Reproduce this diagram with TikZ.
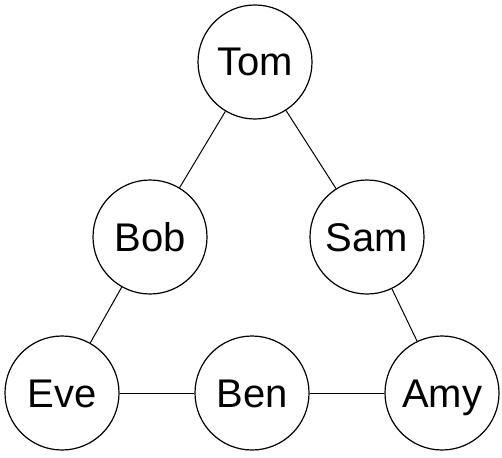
\documentclass[tikz,border=0pt]{standalone}
\usepackage{fontspec}
\setmainfont{Liberation Sans}
\begin{document}
\begin{tikzpicture}[x=1pt,y=-1pt,
  person/.style={circle,draw,line width=1.2pt,minimum size=114pt,inner sep=0pt,text height=28pt,text depth=0pt,font=\fontsize{40}{46}\selectfont},
  link/.style={line width=1pt}]
\useasboundingbox (0,0) rectangle (502,457);
\node[person] (tom) at (255,62) {Tom};
\node[person] (bob) at (150,237) {Bob};
\node[person] (sam) at (367,237) {Sam};
\node[person] (eve) at (62,393) {Eve};
\node[person] (ben) at (252,393) {Ben};
\node[person] (amy) at (442,393) {Amy};
\draw[link] (tom) -- (bob);
\draw[link] (tom) -- (sam);
\draw[link] (bob) -- (eve);
\draw[link] (sam) -- (amy);
\draw[link] (eve) -- (ben);
\draw[link] (ben) -- (amy);
\end{tikzpicture}
\end{document}
